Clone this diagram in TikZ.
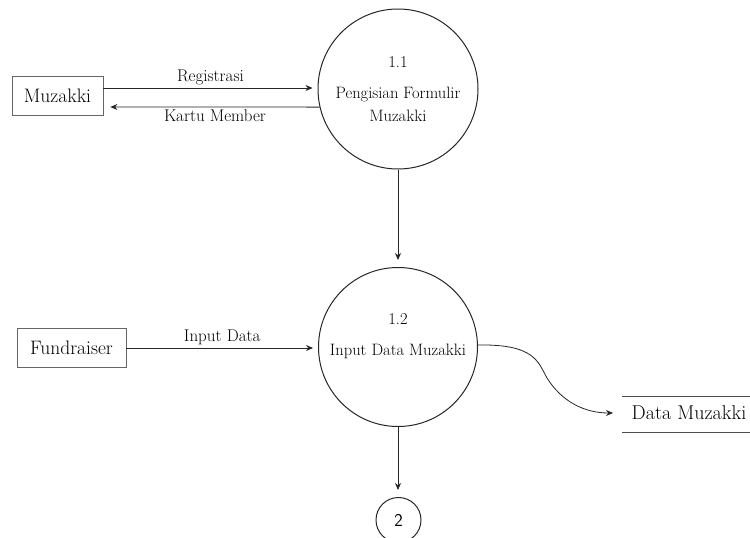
\documentclass[tikz,border=0pt]{standalone}
\usetikzlibrary{arrows.meta,calc}
\begin{document}
\begin{tikzpicture}[x=1pt,y=-1pt,
  ent/.style={draw=black!60,line width=0.8pt,rectangle,inner sep=0pt,font=\fontsize{19.5}{22}\selectfont},
  proc/.style={draw=black!85,line width=1pt,circle,inner sep=0pt},
  ptext/.style={font=\fontsize{16.5}{19}\selectfont,align=center,inner sep=0pt},
  flow/.style={draw=black!85,line width=0.8pt,-{Stealth[length=7pt,width=6pt]}},
  lbl/.style={font=\fontsize{17}{19}\selectfont,inner sep=1pt},
  storeline/.style={draw=black!70,line width=0.8pt}]
\useasboundingbox (0,0) rectangle (750,538);
\node[ent,minimum width=91pt,minimum height=39pt] (muz) at (57.5,95.5) {Muzakki};
\node[ent,minimum width=109pt,minimum height=39pt] (fund) at (71.5,348) {Fundraiser};
\node[proc,minimum size=160pt] (p11) at (398,89) {};
\node[ptext] (n11) at (398,62) {1.1};
\node[ptext] (t11) at (398,104) {Pengisian Formulir\\[4pt]Muzakki};
\node[proc,minimum size=159pt] (p12) at (398,347) {};
\node[ptext] (n12) at (398,319) {1.2};
\node[ptext] (t12) at (398,351) {Input Data Muzakki};
\node[draw=black!85,line width=1pt,circle,minimum size=45pt,inner sep=0pt,font=\sffamily\fontsize{18}{20}\selectfont] (p2) at (398.5,520) {2};
\node[font=\fontsize{20}{22}\selectfont,inner sep=0pt] (store) at (689,413) {Data Muzakki};
\coordinate (stl) at (622,396);
\coordinate (str) at (750,396);
\coordinate (sbl) at (622,432);
\coordinate (sbr) at (750,432);
\draw[storeline] (stl) -- (str);
\draw[storeline] (sbl) -- (sbr);
% flows
\draw[flow,shorten >=5pt] ($(muz.east)+(0,-7.5)$) -- node[lbl,above=1.5pt] (lreg) {Registrasi} ($(p11.west)+(0,-1)$);
\draw[flow] (p11.193) -- node[lbl,below=1.5pt] (lkm) {Kartu Member} ($(muz.east)+(7,11.5)$);
\draw[flow,shorten >=7pt] (p11.south) -- (p12.north);
\draw[flow,shorten >=5pt] (fund.east) -- node[lbl,above=1.5pt] (lin) {Input Data} (fund.east -| p12.west);
\draw[flow] ($(p12.east)+(0,-2)$) .. controls (535,344) and (538,362) .. (547,378) .. controls (562,402) and (585,413) .. (store.west -| 613,0);
\draw[flow,shorten >=7pt] (p12.south) -- (p12.south |- p2.north);
\end{tikzpicture}
\end{document}
